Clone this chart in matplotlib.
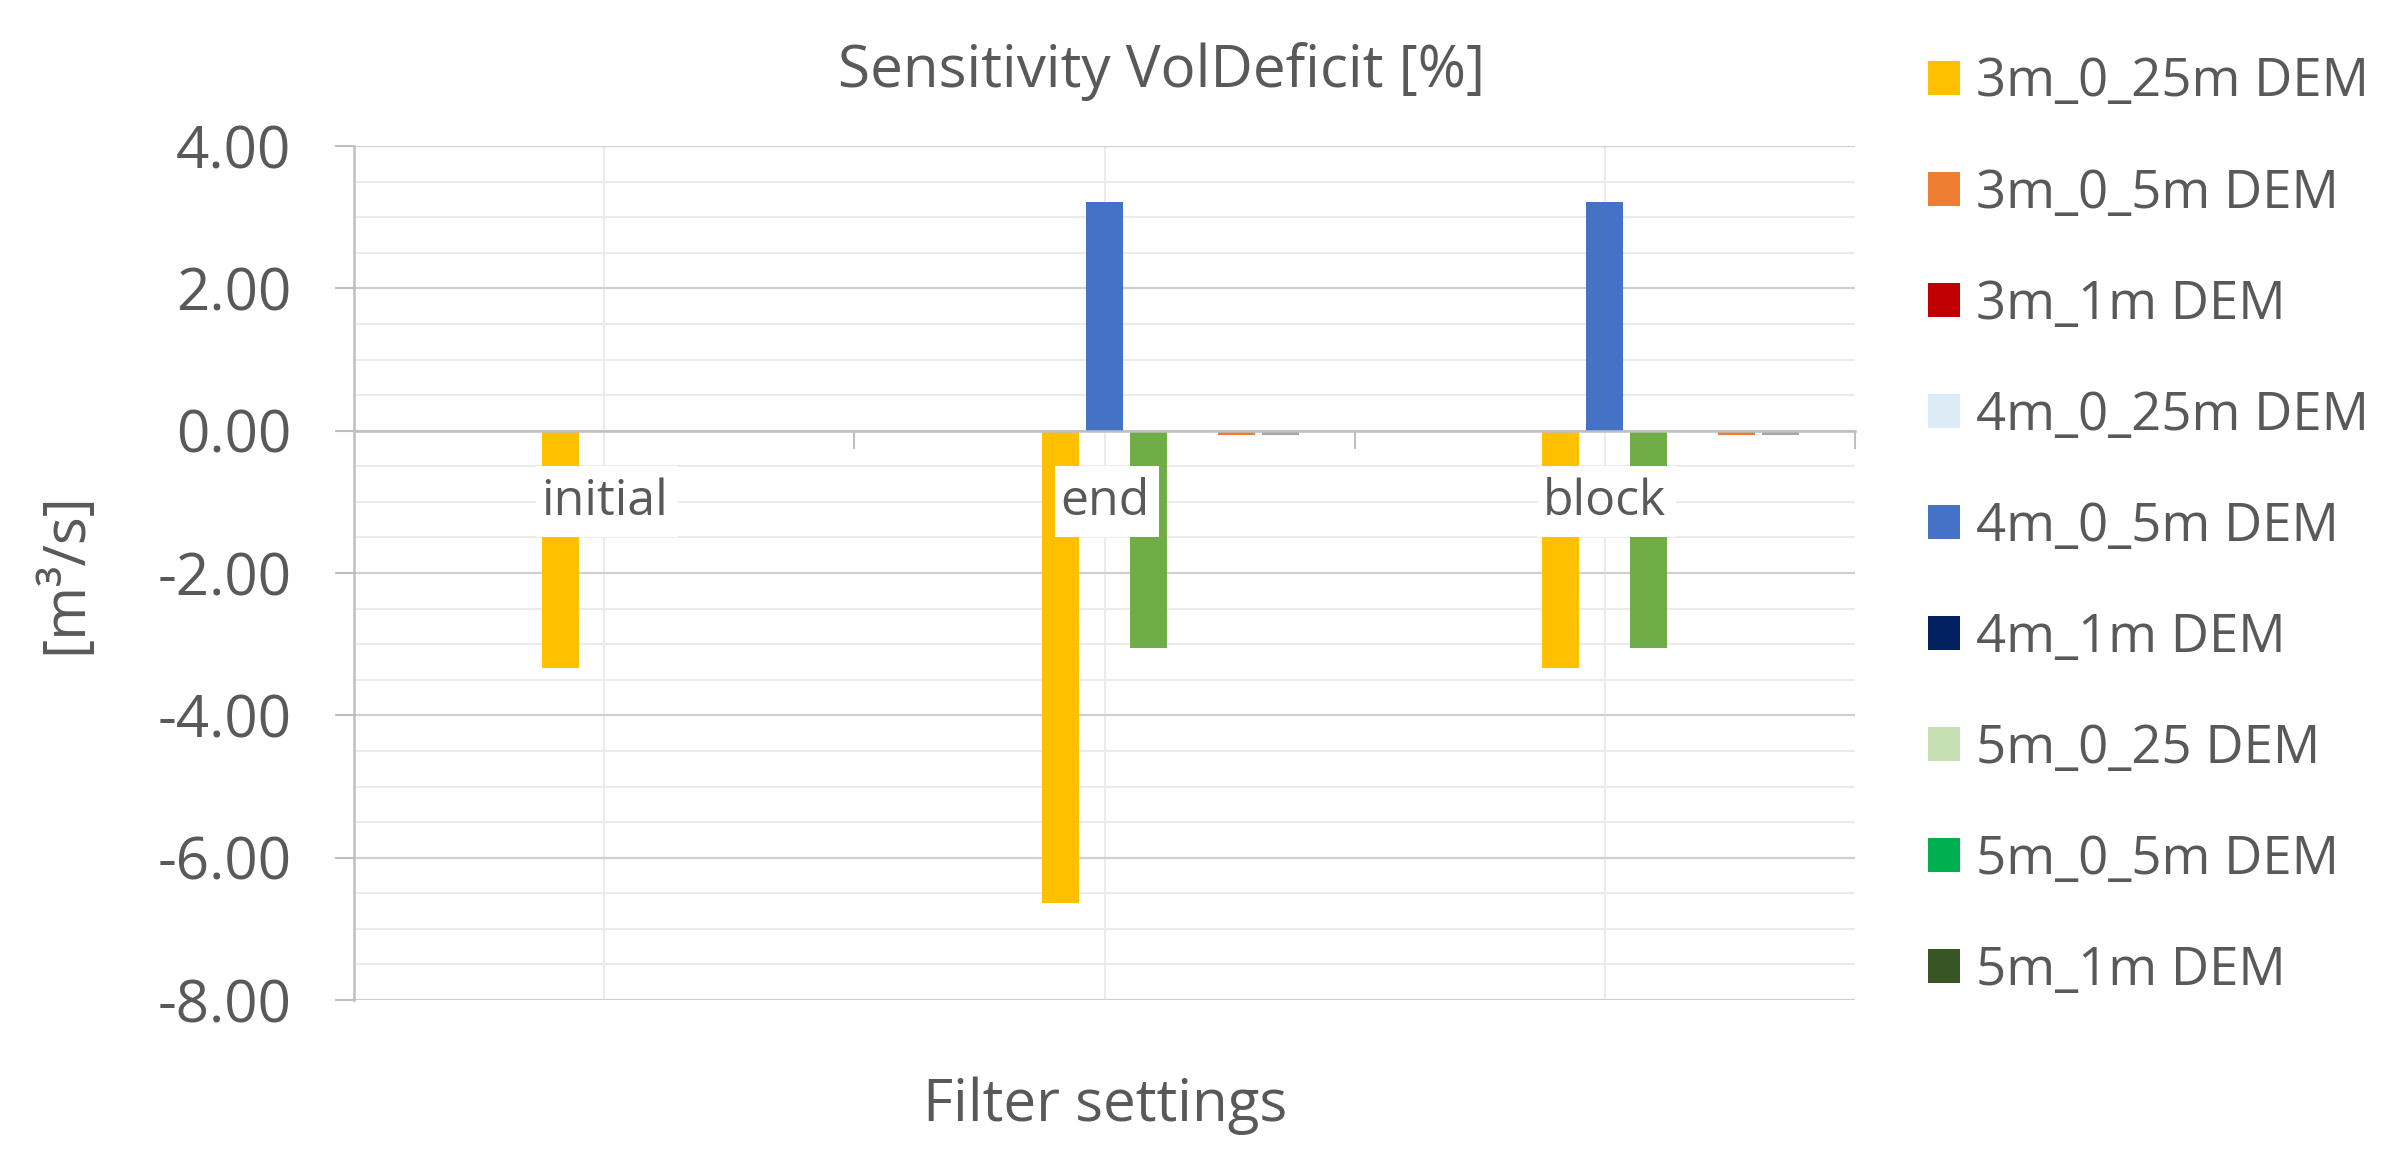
import numpy as np
import matplotlib
matplotlib.use("Agg")
import matplotlib.pyplot as plt
from matplotlib.patches import Patch, Rectangle
from matplotlib.ticker import FormatStrFormatter, MultipleLocator

plt.rcParams['font.family'] = ['Open Sans', 'DejaVu Sans']

# data
categories = ['initial', 'end', 'block']
legend_labels = ['3m_0_25m DEM', '3m_0_5m DEM', '3m_1m DEM',
                 '4m_0_25m DEM', '4m_0_5m DEM', '4m_1m DEM',
                 '5m_0_25 DEM', '5m_0_5m DEM', '5m_1m DEM']
legend_colors = ['#FFC000', '#ED7D31', '#C00000',
                 '#DDEBF7', '#4472C4', '#002060',
                 '#C6E0B4', '#00B050', '#375623']

# bars that are visible in the plot (slot = position inside a group of 9)
yellow_vals = [-3.33, -6.63, -3.33]
blue_vals = [0.0, 3.22, 3.22]
green_vals = [0.0, -3.05, -3.05]
orange_vals = [0.0, -0.06, -0.06]
gray_vals = [0.0, -0.06, -0.06]

bar_series = [
    (3, yellow_vals, '#FFC000'),
    (4, blue_vals, '#4472C4'),
    (5, green_vals, '#70AD47'),
    (7, orange_vals, '#ED7D31'),
    (8, gray_vals, '#A5A5A5'),
]

text_col = '#595959'
n_slots = 9
pitch = 0.0878
bar_w = 0.0739

fig = plt.figure(figsize=(24.08, 11.76), dpi=100)
ax = fig.add_axes([354 / 2408, 1 - 1000 / 1176, (1855 - 354) / 2408, (1000 - 146) / 1176])

x = np.arange(len(categories))
for slot, vals, col in bar_series:
    ax.bar(x + (slot - (n_slots - 1) / 2) * pitch, vals, bar_w, color=col, zorder=2)

ax.set_xlim(-0.5, 2.5)
ax.set_ylim(-8, 4)

# y axis
ax.yaxis.set_major_locator(MultipleLocator(2))
ax.yaxis.set_minor_locator(MultipleLocator(0.5))
ax.yaxis.set_major_formatter(FormatStrFormatter('%.2f'))
ax.tick_params(axis='y', which='major', length=14, width=1.5, color='#BFBFBF',
               labelsize=42, labelcolor=text_col, pad=31)
ax.tick_params(axis='y', which='minor', length=0)
ax.grid(axis='y', which='major', color='#D0D0D0', linewidth=1.6, zorder=0)
ax.grid(axis='y', which='minor', color='#EBEBEB', linewidth=1.5, zorder=0)

# x axis sits on zero, ticks at group borders
ax.set_xticks([0.5, 1.5, 2.5])
ax.set_xticklabels([])
ax.set_xticks(np.arange(0, 2.51, 0.5), minor=True)
ax.tick_params(axis='x', which='major', length=13, width=1.5, color='#BFBFBF', direction='out')
ax.tick_params(axis='x', which='minor', length=0)
ax.grid(axis='x', which='minor', color='#EBEBEB', linewidth=1.5, zorder=0)
ax.set_axisbelow(True)

ax.spines['bottom'].set_position(('data', 0))
ax.spines['bottom'].set_color('#BFBFBF')
ax.spines['bottom'].set_linewidth(1.8)
ax.spines['left'].set_color('#BFBFBF')
ax.spines['left'].set_linewidth(1.8)
ax.spines['top'].set_visible(False)
ax.spines['right'].set_visible(False)

# category names inside the plot, on a white box from -0.5 to -1.5
label_texts = []
for i, cat in enumerate(categories):
    t = ax.text(i, -1.0, cat, ha='center', va='center', fontsize=36, color=text_col, zorder=6)
    label_texts.append(t)

fig.canvas.draw()
renderer = fig.canvas.get_renderer()
inv = ax.transData.inverted()
for t in label_texts:
    bb = t.get_window_extent(renderer)
    x0 = inv.transform((bb.x0 - 5, 0))[0]
    x1 = inv.transform((bb.x1 + 10, 0))[0]
    ax.add_patch(Rectangle((x0, -1.5), x1 - x0, 1.0, facecolor='white',
                           edgecolor='none', zorder=5))

fig.text(1162 / 2408, 1 - 87 / 1176, 'Sensitivity VolDeficit [%]', ha='center',
         va='baseline', fontsize=42, color=text_col)
fig.text(1105 / 2408, 1 - 1106 / 1176, 'Filter settings', ha='center', va='center',
         fontsize=42, color=text_col)
fig.text(66 / 2408, 1 - 573 / 1176, '[m³/s]', ha='center', va='center',
         rotation=90, fontsize=42, color=text_col)

handles = [Patch(facecolor=c, edgecolor='none') for c in legend_colors]
fig.legend(handles, legend_labels, loc='upper left', bbox_to_anchor=(1928 / 2408, 1 - 56 / 1176),
           frameon=False, fontsize=38, labelcolor=text_col, handlelength=0.6,
           handleheight=0.6, handletextpad=0.3, labelspacing=1.09, borderpad=0,
           borderaxespad=0)

fig.savefig('out.png', dpi=100, facecolor='white')
